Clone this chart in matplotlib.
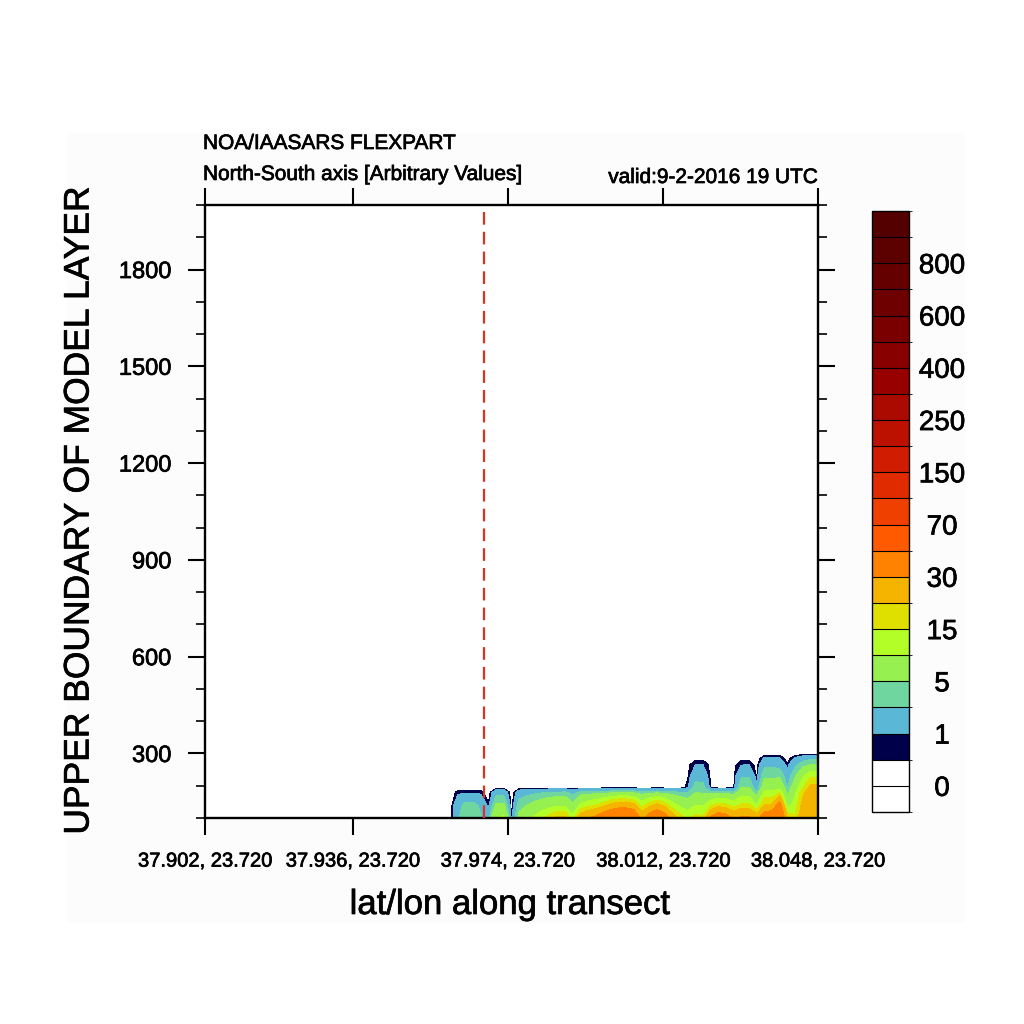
import numpy as np
import matplotlib
matplotlib.use('Agg')
import matplotlib.pyplot as plt
import matplotlib.patheffects as pe
from matplotlib.colors import ListedColormap, BoundaryNorm
from matplotlib.patches import Rectangle

plt.rcParams['font.family'] = ['Liberation Sans', 'DejaVu Sans']

# ---------------- data ----------------
n_points = 81            # transect points (index 0..80)
first_col = 32           # first transect index shown in the value rows below
heights = [100, 140, 180, 195, 230, 265, 285, 300]   # model layer heights (m)

# concentration per height level, transect index 32..80
conc_z100 = [0, 2.8, 4.0, 4.0, 3.2, 2.2, 10, 11, 0.55, 6, 8, 11, 14, 18, 22, 21, 12,
             25, 30, 33, 40, 46, 48, 48, 46, 27, 38, 45, 38, 25, 18, 14, 17, 16,
             32, 40, 36, 28, 32, 32, 25, 40, 42, 48, 20, 16, 26, 29, 29]
conc_z140 = [0, 2.2, 3.6, 3.6, 2.6, 0.6, 5.5, 5.5, 0, 4, 5, 6, 7, 8, 9, 9, 5.5,
             11, 13, 15, 18, 22, 25, 25, 22, 13, 18, 22, 18, 12, 9, 7, 10, 9.5,
             14, 17, 16, 13, 16, 16, 10, 20, 21, 36, 8, 12, 22, 27, 27]
conc_z180 = [0, 0.75, 0.8, 0.8, 0.7, 0.1, 2.0, 2.0, 0, 1.8, 2.2, 2.5, 2.8, 3.0, 3.0, 3.2, 2.3,
             3.3, 3.5, 3.6, 3.8, 4.0, 4.0, 4.2, 4.0, 3.4, 3.7, 4.0, 3.7, 3.3, 3.0, 3.0, 4.8, 4.6,
             3.5, 3.7, 3.6, 3.4, 7, 7, 3.0, 11, 11, 14, 4, 9, 18, 25, 25]
conc_z195 = [0, 0, 0, 0, 0, 0, 0, 0, 0, 0, 0, 0, 0, 0, 0, 0, 0,
             0, 0, 0, 0, 0, 0, 0, 0, 0, 0, 0, 0, 0, 0, 0.8, 3.8, 3.6,
             0.4, 0, 0, 0.4, 5, 5, 1.5, 7, 7, 8, 3, 7, 14, 22, 22]
conc_z230 = [0, 0, 0, 0, 0, 0, 0, 0, 0, 0, 0, 0, 0, 0, 0, 0, 0,
             0, 0, 0, 0, 0, 0, 0, 0, 0, 0, 0, 0, 0, 0, 0.4, 2.2, 2.1,
             0.3, 0, 0, 0.3, 2.8, 2.8, 0.4, 4.5, 4.5, 4.5, 1.8, 4.5, 9, 14, 14]
conc_z265 = [0, 0, 0, 0, 0, 0, 0, 0, 0, 0, 0, 0, 0, 0, 0, 0, 0,
             0, 0, 0, 0, 0, 0, 0, 0, 0, 0, 0, 0, 0, 0, 0.3, 1.0, 1.0,
             0.25, 0, 0, 0.3, 0.95, 1.0, 0.2, 2.5, 2.5, 2.3, 0.6, 2.6, 4, 5, 5]
conc_z285 = [0, 0, 0, 0, 0, 0, 0, 0, 0, 0, 0, 0, 0, 0, 0, 0, 0,
             0, 0, 0, 0, 0, 0, 0, 0, 0, 0, 0, 0, 0, 0, 0, 0.3, 0.3,
             0, 0, 0, 0, 0.25, 0.3, 0, 1.2, 1.2, 1.1, 0.15, 1.2, 2, 2.5, 2.5]
conc_z300 = [0] * 49

level_bounds = [-1, 0, 0.5, 1, 3, 5, 10, 15, 20, 30, 50, 70, 100, 150, 200, 250,
                300, 400, 500, 600, 700, 800, 900, 1000]
level_colors = ['#ffffff', '#ffffff', '#00004a', '#5ab8d6', '#70d6a0', '#96f050',
                '#b4fe28', '#e0e000', '#f5b400', '#ff8200', '#ff5a00', '#f04000',
                '#e02a00', '#d01c00', '#bc1000', '#aa0a00', '#980000', '#880000',
                '#7a0000', '#6e0000', '#640000', '#5c0000', '#540000']
cbar_ticks = [0, 1, 5, 15, 30, 70, 150, 250, 400, 600, 800]

xtick_pos = [0, 19.3, 39.5, 59.8, 80]
xtick_labels = ['37.902, 23.720', '37.936, 23.720', '37.974, 23.720',
                '38.012, 23.720', '38.048, 23.720']
ytick_major = [300, 600, 900, 1200, 1500, 1800]
ytick_minor = list(range(100, 2001, 100))
marker_index = 36.4

# ---------------- figure ----------------
rows = [conc_z100, conc_z140, conc_z180, conc_z195, conc_z230, conc_z265, conc_z285, conc_z300]
C = np.zeros((len(heights), n_points))
for k, r in enumerate(rows):
    C[k, first_col:first_col + len(r)] = r
x_idx = np.arange(n_points)
z = np.array(heights, dtype=float)

heavy = [pe.withStroke(linewidth=0.5, foreground='black')]

W = 1024.0
fig = plt.figure(figsize=(10.24, 10.24), dpi=100)
bg = Rectangle((67 / W, 1 - 922 / W), (965 - 67) / W, (922 - 133) / W,
               transform=fig.transFigure, facecolor='#fcfcfc',
               edgecolor='none', zorder=-10)
fig.patches.append(bg)

ax = fig.add_axes([205 / W, 1 - 818 / W, 613 / W, 613 / W])
ax.set_zorder(1)
ax.set_facecolor('white')
cmap = ListedColormap(level_colors)
norm = BoundaryNorm(level_bounds, cmap.N)
cs = ax.contourf(x_idx, z, C, levels=level_bounds, cmap=cmap, norm=norm)

ax.axvline(marker_index, color='#e0301e', lw=1.6, ls=(0, (5.7, 3.2)), zorder=5)

ax.set_xlim(0, n_points - 1)
ax.set_ylim(100, 2000)
ax.set_xticks(xtick_pos, xtick_labels)
ax.xaxis.set_minor_locator(matplotlib.ticker.NullLocator())
ax.set_yticks(ytick_major, [str(v) for v in ytick_major])
ax.set_yticks(ytick_minor, minor=True)

for sp in ax.spines.values():
    sp.set_linewidth(1.7)
ax.tick_params(axis='x', which='major', direction='out', length=12.2, width=1.5,
               top=True, labeltop=False, pad=12, labelsize=14.5)
ax.tick_params(axis='y', which='major', direction='out', length=12.2, width=1.5,
               right=True, labelright=False, pad=12, labelsize=17)
ax.tick_params(axis='y', which='minor', direction='out', length=6.5, width=1.2,
               right=True)
for lab in ax.get_xticklabels() + ax.get_yticklabels():
    lab.set_path_effects(heavy)

cax = fig.add_axes([872 / W, 1 - 812 / W, 37 / W, 601 / W])
cax.set_zorder(1)
cb = fig.colorbar(cs, cax=cax, drawedges=True)
cb.set_ticks(cbar_ticks, labels=[str(t) for t in cbar_ticks])
cb.ax.tick_params(length=0, labelsize=20, pad=23.8)
for lab in cb.ax.get_yticklabels():
    lab.set_horizontalalignment('center')
    lab.set_path_effects(heavy)
cb.outline.set_linewidth(1.0)
cb.dividers.set_linewidth(0.8)
cb.dividers.set_color('black')

texts = [
    fig.text(203 / W, 1 - 149 / W, 'NOA/IAASARS FLEXPART', fontsize=15, ha='left', va='baseline'),
    fig.text(203 / W, 1 - 180 / W, 'North-South axis [Arbitrary Values]', fontsize=15,
             ha='left', va='baseline'),
    fig.text(818 / W, 1 - 183 / W, 'valid:9-2-2016 19 UTC', fontsize=15, ha='right', va='baseline'),
    fig.text(79 / W, 1 - 511 / W, 'UPPER BOUNDARY OF MODEL LAYER', rotation=90, fontsize=25.5,
             ha='center', va='center'),
    fig.text(510 / W, 1 - 914 / W, 'lat/lon along transect', fontsize=25, ha='center',
             va='baseline'),
]
for t in texts:
    t.set_path_effects(heavy)

fig.savefig('out.png', dpi=100)
